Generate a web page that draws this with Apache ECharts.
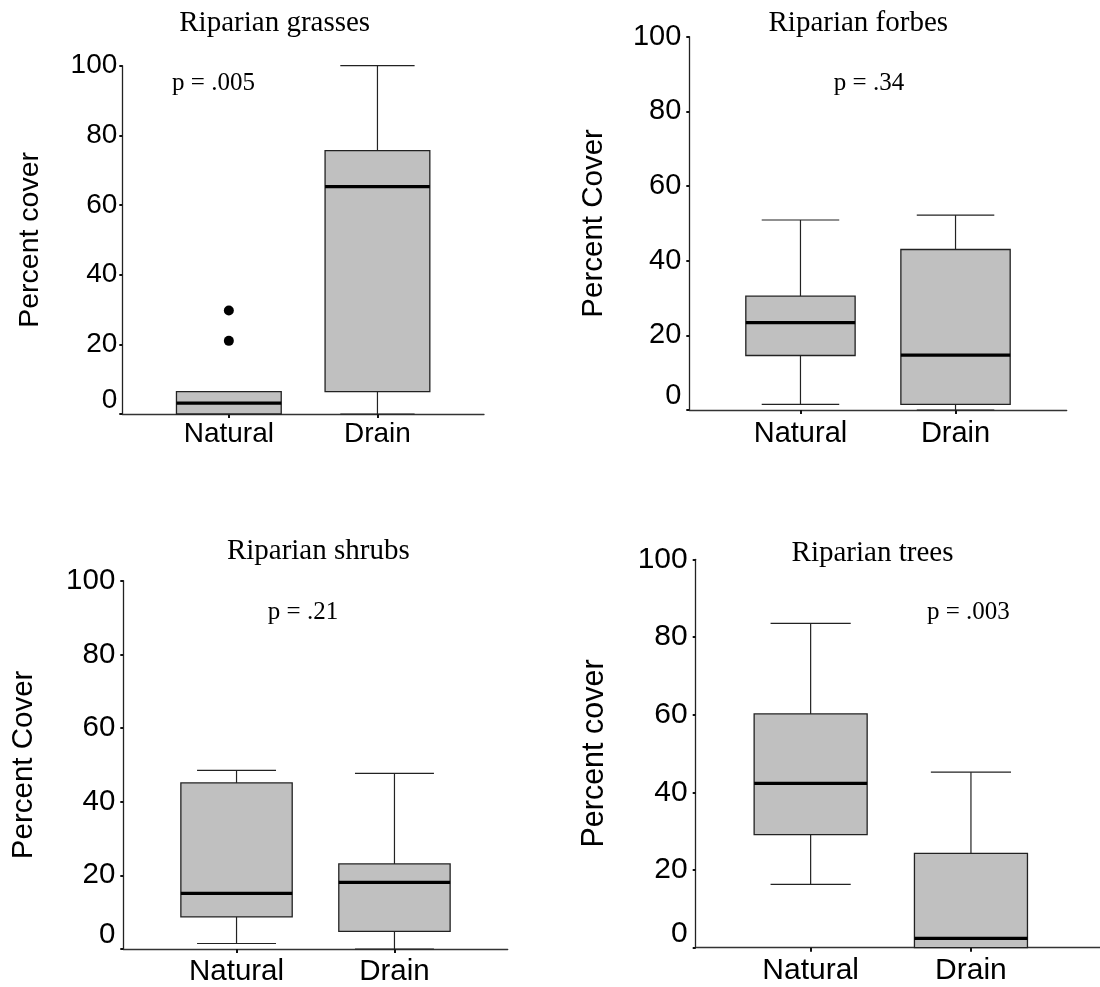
<!DOCTYPE html>
<html><head><meta charset="utf-8">
<script src="https://cdn.jsdelivr.net/npm/echarts@6/dist/echarts.min.js"></script>
<style>html,body{margin:0;padding:0;background:#fff}#c{width:1100px;height:987px}</style>
</head><body><div id="c"></div>
<script>
// ---------- data ----------
const CATS = ['Natural', 'Drain'];
const Y_TICKS = [0, 20, 40, 60, 80, 100];

// [min, Q1, median, Q3, max]
const grassesNatural = [0, 0, 3.1, 6.4, 6.4];
const grassesDrain   = [0, 6.4, 65.3, 75.6, 100];
const grassesNaturalOutliers = [21.0, 29.7];

const forbesNatural = [1.5, 14.6, 23.4, 30.5, 50.9];
const forbesDrain   = [0, 1.5, 14.7, 43.0, 52.2];

const shrubsNatural = [1.5, 8.7, 15.1, 45.1, 48.5];
const shrubsDrain   = [0, 4.8, 18.1, 23.1, 47.7];

const treesNatural = [16.3, 29.1, 42.3, 60.2, 83.5];
const treesDrain   = [0, 0, 2.4, 24.3, 45.2];

const TITLES = ['Riparian grasses', 'Riparian forbes', 'Riparian shrubs', 'Riparian trees'];
const P_TEXTS = ['p = .005', 'p = .34', 'p = .21', 'p = .003'];
const Y_NAMES = ['Percent cover', 'Percent Cover', 'Percent Cover', 'Percent cover'];

// ---------- layout / style ----------
const BOX_W = 0.705, CAP_W = 0.5;
const SANS = 'Liberation Sans, Arial, sans-serif';
const SERIF = 'Liberation Serif, Times New Roman, serif';
const panels = [
  {grid:{left:122.3, top:65.7, width:361.7, height:348.3}, xmax:2.717, fs:28, yfs:28.5, nameGap:78, lm:5, xm:6,
   title:[274.7, 23.5], p:[213.5, 83.3], data:[grassesNatural, grassesDrain], out:grassesNaturalOutliers},
  {grid:{left:689.3, top:36.7, width:377.4, height:373.3}, xmax:2.717, fs:29, yfs:29.5, nameGap:80, lm:8, xm:9,
   title:[858.3, 23.7], p:[869, 83.3], data:[forbesNatural, forbesDrain], out:[]},
  {grid:{left:123.3, top:580.7, width:384.4, height:369.3}, xmax:2.717, fs:29.5, yfs:29.5, nameGap:84, lm:8, xm:8,
   title:[318.3, 551], p:[303, 612.2], data:[shrubsNatural, shrubsDrain], out:[]},
  {grid:{left:695.7, top:559.3, width:404.3, height:388.4}, xmax:2.805, fs:30, yfs:30.5, nameGap:86, lm:8, xm:8,
   title:[872.5, 553], p:[968.3, 612.2], data:[treesNatural, treesDrain], out:[]}
];

function renderBox(params, api) {
  const x = api.value(0);
  const mn = api.value(1), q1 = api.value(2), md = api.value(3), q3 = api.value(4), mx = api.value(5);
  const hb = api.size([BOX_W, 0])[0] / 2;
  const hc = api.size([CAP_W, 0])[0] / 2;
  const cx = api.coord([x, md])[0];
  const Y = v => api.coord([x, v])[1];
  const ch = [];
  const wl = {stroke:'#222', lineWidth:1.2};
  if (mx > q3) {
    ch.push({type:'line', shape:{x1:cx, y1:Y(q3), x2:cx, y2:Y(mx)}, style:wl});
    ch.push({type:'line', shape:{x1:cx-hc, y1:Y(mx), x2:cx+hc, y2:Y(mx)}, style:wl});
  }
  if (mn < q1) {
    ch.push({type:'line', shape:{x1:cx, y1:Y(q1), x2:cx, y2:Y(mn)}, style:wl});
    ch.push({type:'line', shape:{x1:cx-hc, y1:Y(mn), x2:cx+hc, y2:Y(mn)}, style:wl});
  }
  ch.push({type:'rect', shape:{x:cx-hb, y:Y(q3), width:2*hb, height:Y(q1)-Y(q3)},
           style:{fill:'#c0c0c0', stroke:'#222', lineWidth:1.3}});
  ch.push({type:'line', shape:{x1:cx-hb, y1:Y(md), x2:cx+hb, y2:Y(md)}, style:{stroke:'#000', lineWidth:3.2}});
  return {type:'group', children:ch};
}

const grid = [], xAxis = [], yAxis = [], series = [], graphic = [];
panels.forEach((pn, i) => {
  grid.push(Object.assign({containLabel:false}, pn.grid));
  xAxis.push({
    gridIndex:i, type:'value', min:0.283, max:pn.xmax,
    axisLine:{show:true, onZero:false, lineStyle:{color:'#333', width:1.3}},
    splitLine:{show:false},
    axisTick:{show:true, customValues:[1, 2], length:4, lineStyle:{color:'#111', width:2}},
    axisLabel:{show:true, customValues:[1, 2], formatter:v => CATS[Math.round(v) - 1] || '',
               fontSize:pn.fs, fontFamily:SANS, color:'#000', margin:pn.xm}
  });
  yAxis.push({
    gridIndex:i, type:'value', min:0, max:100, interval:20,
    axisLine:{show:true, onZero:false, lineStyle:{color:'#222', width:1.3}},
    splitLine:{show:false},
    axisTick:{show:true, length:3, lineStyle:{color:'#111', width:2}},
    axisLabel:{fontSize:pn.fs, fontFamily:SANS, color:'#000', margin:pn.lm,
      formatter:v => v === 0 ? '{z|0}' : String(v),
      rich:{z:{fontSize:pn.fs, fontFamily:SANS, color:'#000', padding:[0, 0, 28, 0]}}},
    name:Y_NAMES[i], nameLocation:'middle', nameGap:pn.nameGap,
    nameTextStyle:{fontSize:pn.yfs, fontFamily:SANS, color:'#000'}
  });
  series.push({
    type:'custom', xAxisIndex:i, yAxisIndex:i, clip:false, z:3,
    data:pn.data.map((d, k) => [k + 1].concat(d)),
    encode:{x:0, y:[1, 2, 3, 4, 5]},
    renderItem:renderBox
  });
  if (pn.out.length) {
    series.push({
      type:'scatter', xAxisIndex:i, yAxisIndex:i, z:4, symbol:'circle', symbolSize:10,
      itemStyle:{color:'#000', opacity:1}, data:pn.out.map(v => [1, v])
    });
  }
  graphic.push({type:'text', x:pn.title[0], y:pn.title[1],
    style:{text:TITLES[i], fontSize:29, fontFamily:SERIF, fill:'#000', textAlign:'center', textVerticalAlign:'middle', align:'center', verticalAlign:'middle'}});
  graphic.push({type:'text', x:pn.p[0], y:pn.p[1],
    style:{text:P_TEXTS[i], fontSize:25, fontFamily:SERIF, fill:'#000', textAlign:'center', textVerticalAlign:'middle', align:'center', verticalAlign:'middle'}});
});

const chart = echarts.init(document.getElementById('c'), null, {renderer:'canvas'});
chart.setOption({animation:false, backgroundColor:'#fff', grid, xAxis, yAxis, series, graphic});
</script>
</body></html>
